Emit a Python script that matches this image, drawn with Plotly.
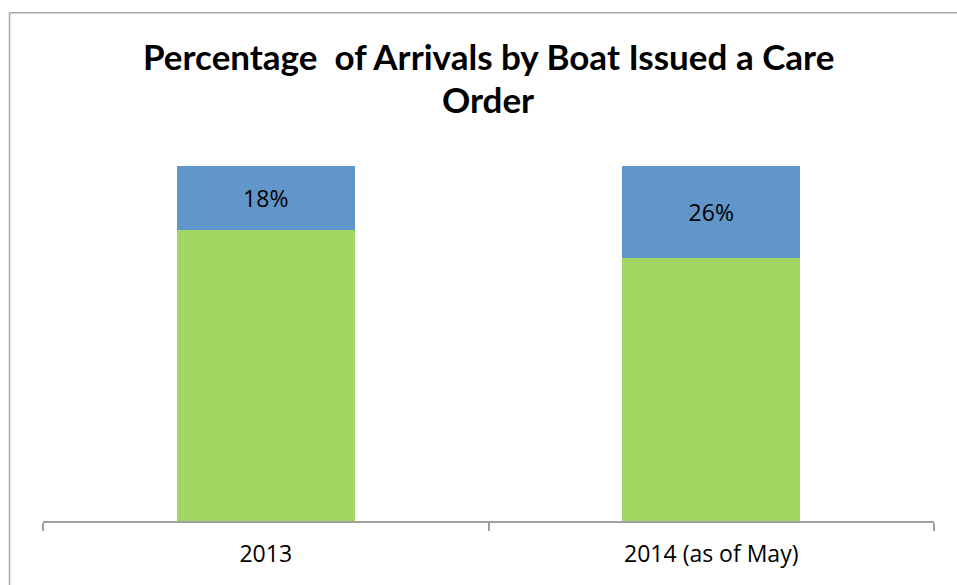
import plotly.graph_objects as go

categories = ["2013", "2014 (as of May)"]
care_order = [0.18, 0.26]
no_care_order = [0.82, 0.74]
care_labels = ["18%", "26%"]
title_lines = ["Percentage  of Arrivals by Boat Issued a Care", "Order"]

W, H = 957, 585
L, R, T, B = 43, 934.5, 165.7, 520.7

fig = go.Figure()
fig.add_trace(go.Bar(x=categories, y=no_care_order, marker=dict(color="#A2D663", line=dict(width=0)),
                     hoverinfo="skip", showlegend=False))
fig.add_trace(go.Bar(x=categories, y=care_order, marker=dict(color="#6096C9", line=dict(width=0)),
                     text=care_labels, textposition="inside", insidetextanchor="middle",
                     textfont=dict(family="Open Sans", size=23, color="black"),
                     hoverinfo="skip", showlegend=False))

def px_x(px):
    return (px - L) / (R - L)

def px_y(py):
    return (B - py) / (B - T)

frame = dict(color="#A6A6A6", width=1.5)
annotations = []
for line, py in zip(title_lines, [56, 99]):
    annotations.append(dict(text=line, xref="paper", yref="paper", x=px_x(488.5), y=px_y(py),
                            xanchor="center", yanchor="middle", showarrow=False,
                            font=dict(family="Lato", size=35, color="black", weight="bold")))

fig.update_layout(
    width=W, height=H,
    barmode="stack", bargap=0.6,
    plot_bgcolor="white", paper_bgcolor="white",
    margin=dict(l=L, r=W - R, t=T, b=H - B, pad=0),
    annotations=annotations,
    xaxis=dict(showline=True, linecolor="#A0A0A0", linewidth=1.5, ticks="outside",
               tickson="boundaries", ticklen=8, tickcolor="#A0A0A0", tickwidth=1.5,
               ticklabelstandoff=12,
               tickfont=dict(family="Open Sans", size=23, color="black"), showgrid=False),
    yaxis=dict(range=[0, 1], visible=False, showgrid=False),
    shapes=[
        dict(type="line", xref="paper", yref="paper",
             x0=px_x(9.5), x1=px_x(975), y0=px_y(12.5), y1=px_y(12.5), line=frame),
        dict(type="line", xref="paper", yref="paper",
             x0=px_x(9.5), x1=px_x(9.5), y0=px_y(12.5), y1=px_y(620), line=frame),
    ],
)

fig.write_html("out.html", config={"displayModeBar": False},
               post_script="document.body.style.margin='0';document.body.style.overflow='hidden';")
